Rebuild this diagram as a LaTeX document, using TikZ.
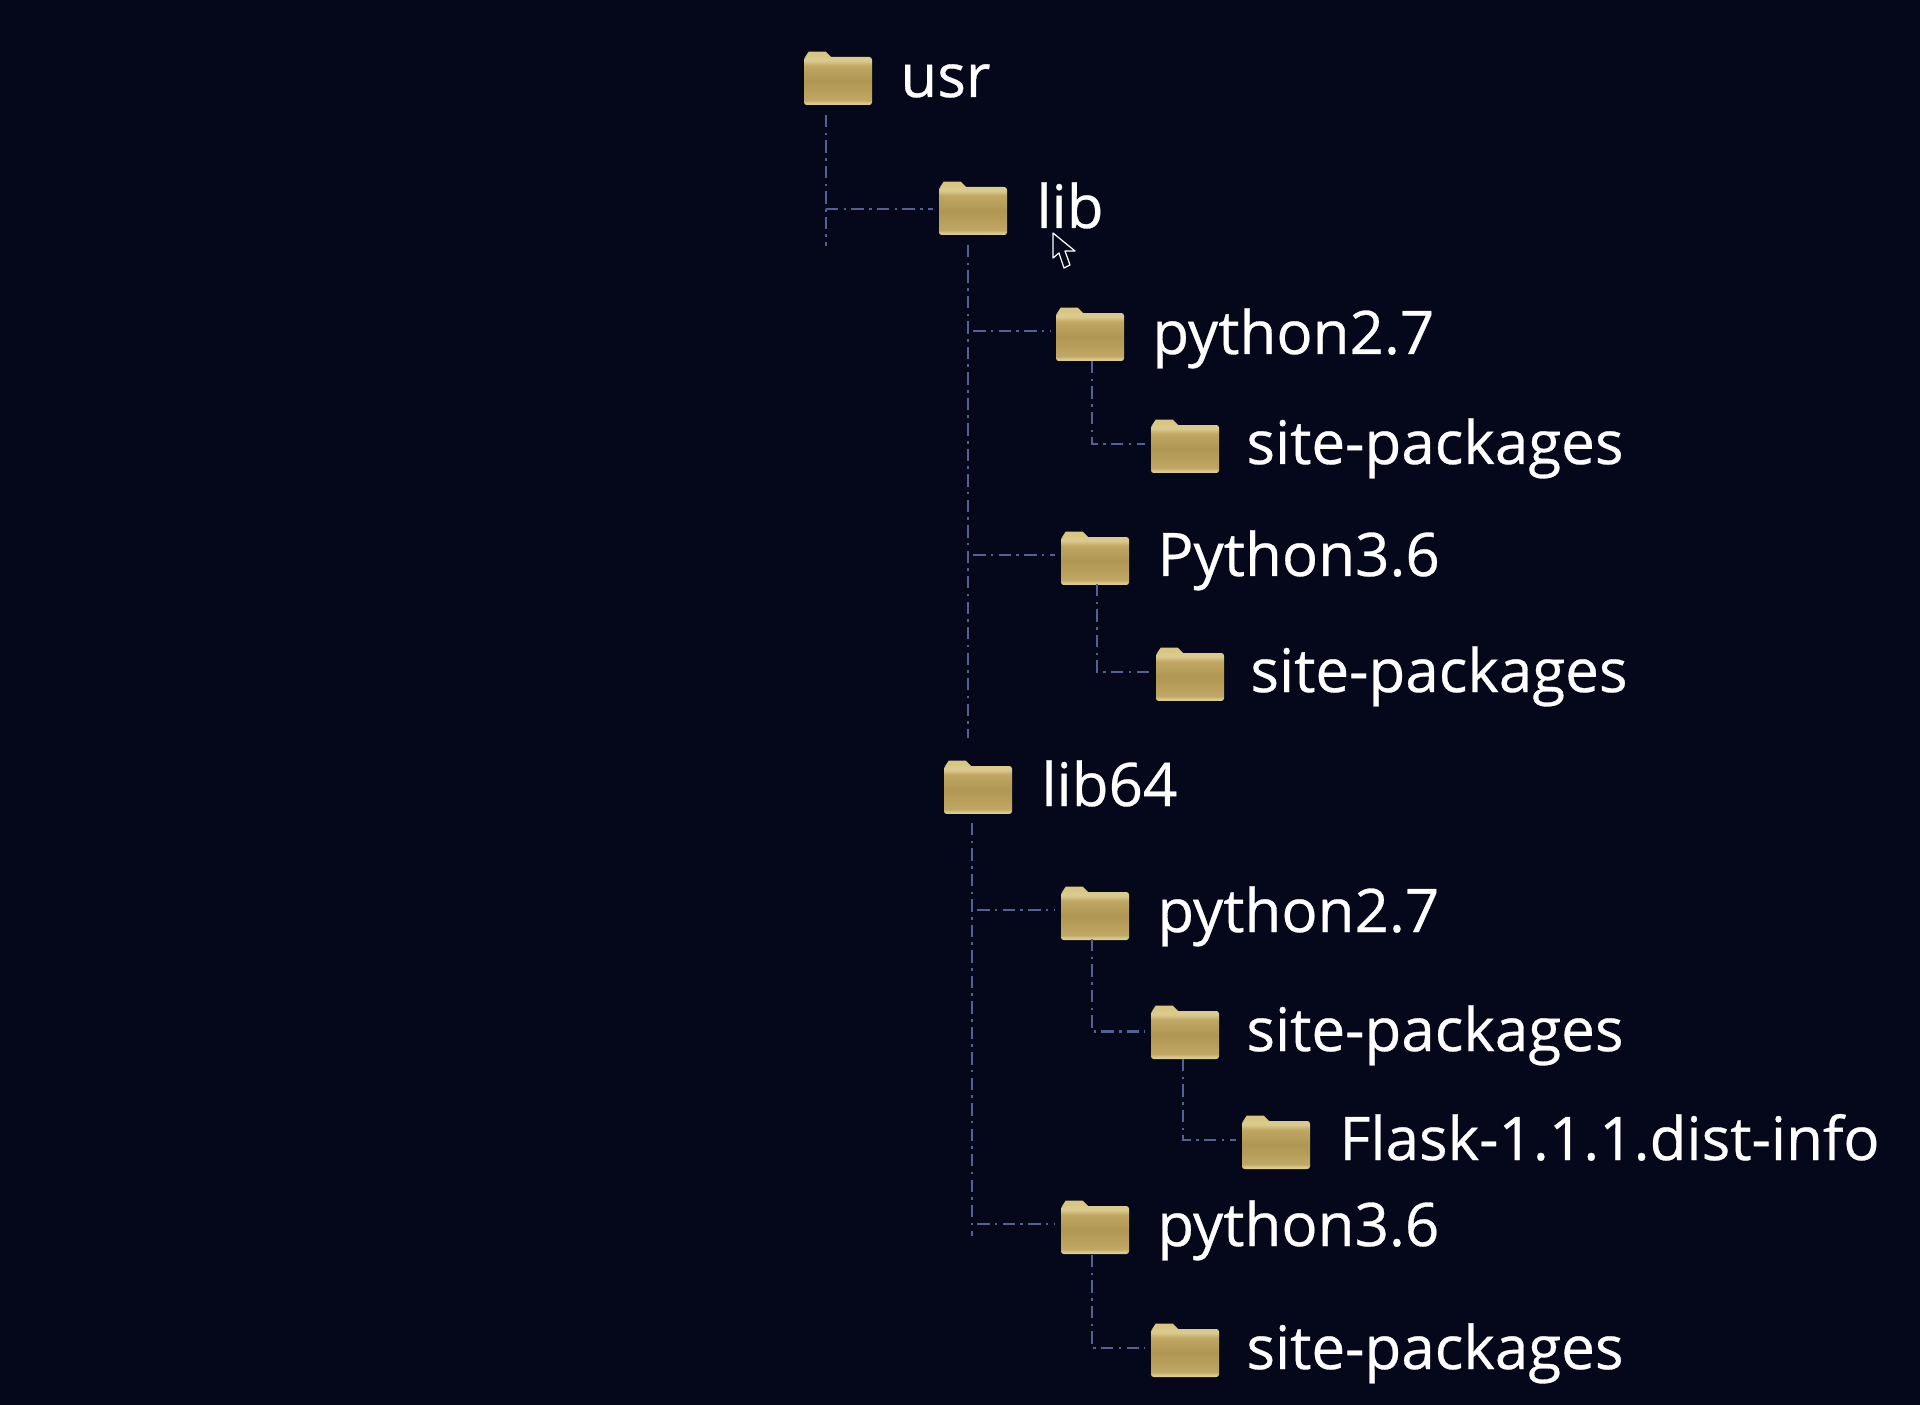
\documentclass[tikz,border=0pt]{standalone}
\usepackage{fontspec}
\newfontface\labelfont{Open Sans}[FakeBold=0.5]
\definecolor{bgnavy}{RGB}{5,8,26}
\definecolor{linkblue}{RGB}{84,96,150}
\definecolor{foldertab}{RGB}{216,198,130}
\definecolor{folderlight}{RGB}{218,202,142}
\definecolor{foldermid}{RGB}{192,167,100}
\definecolor{folderdark}{RGB}{176,150,82}
\pgfdeclareverticalshading{folderfill}{100bp}{color(0bp)=(folderlight);color(27bp)=(folderlight);color(30bp)=(foldermid);color(50bp)=(folderdark);color(66bp)=(foldermid);color(71bp)=(folderlight);color(100bp)=(folderlight)}
\tikzset{
	folder/.style={rectangle,inner sep=0,minimum width=1.36cm,minimum height=0.96cm,shading=folderfill,rounded corners=1.5pt,
		append after command={\pgfextra{\fill[foldertab] (\tikzlastnode.north west) ++(1,1) -- ++(4,-6) -- ++(17,0) -- ++(6,6) -- cycle;}}},
	label/.style={anchor=base west,inner sep=0,text=white,font=\fontsize{34.2}{40}\labelfont},
	link/.style={linkblue,line width=1.25pt,dash pattern=on 7pt off 3pt on 1.5pt off 3pt},
}
\begin{document}
\begin{tikzpicture}[x=0.02cm,y=-0.02cm]
	\fill[bgnavy] (0,0) rectangle (1920,1405);
	\useasboundingbox (0,0) rectangle (1920,1405);
	% folders
	\node[folder] (usr) at (838,81) {};
	\node[folder] (lib) at (973,211) {};
	\node[folder] (pytwo) at (1090,337) {};
	\node[folder] (sitea) at (1185,449) {};
	\node[folder] (pythree) at (1095,561) {};
	\node[folder] (siteb) at (1190,677) {};
	\node[folder] (libsix) at (978,790) {};
	\node[folder] (pytwob) at (1095,916) {};
	\node[folder] (sitec) at (1185,1035) {};
	\node[folder] (flask) at (1276,1145) {};
	\node[folder] (pythreeb) at (1095,1230) {};
	\node[folder] (sited) at (1185,1353) {};
	% labels
	\node[label] (usrtext) at (900,97) {usr};
	\node[label] (libtext) at (1036,228) {lib};
	\node[label] (pytwotext) at (1152,354) {python2.7};
	\node[label] (sitetexta) at (1246,464) {site-packages};
	\node[label] (pythreetext) at (1157,576) {Python3.6};
	\node[label] (sitetextb) at (1250,692) {site-packages};
	\node[label] (libsixtext) at (1041,806) {lib64};
	\node[label] (pytwotextb) at (1157,932) {python2.7};
	\node[label] (sitetextc) at (1246,1051) {site-packages};
	\node[label] (flasktext) at (1339,1160) {Flask-1.1.1.dist-info};
	\node[label] (pythreetextb) at (1157,1246) {python3.6};
	\node[label] (sitetextd) at (1246,1369) {site-packages};
	% trunks
	\coordinate (usrtop) at (826,115);
	\coordinate (usrend) at (826,246);
	\coordinate (libtop) at (968,245);
	\coordinate (libend) at (968,738);
	\coordinate (libsixtop) at (972,823);
	\coordinate (libsixend) at (972,1236);
	\draw[link] (usrtop) -- (usrend);
	\draw[link] (libtop) -- (libend);
	\draw[link] (libsixtop) -- (libsixend);
	% branches
	\draw[link,shorten >=3pt] ([yshift=1.2pt]usrtop |- lib) -- ([yshift=1.2pt]lib.west);
	\draw[link,shorten <=3pt,shorten >=3pt] ([yshift=3.4pt]libtop |- pytwo.west) -- ([yshift=3.4pt]pytwo.west);
	\draw[link,shorten <=3pt,shorten >=3pt] ([yshift=3.4pt]libtop |- pythree.west) -- ([yshift=3.4pt]pythree.west);
	\draw[link,shorten <=3pt,shorten >=3pt] ([yshift=3.4pt]libsixtop |- pytwob.west) -- ([yshift=3.4pt]pytwob.west);
	\draw[link,shorten <=3pt,shorten >=3pt] ([yshift=3.4pt]libsixtop |- pythreeb.west) -- ([yshift=3.4pt]pythreeb.west);
	\coordinate (pytwodrop) at (1092,361);
	\coordinate (pythreedrop) at (1097,584);
	\coordinate (pytwobdrop) at (1092,939);
	\coordinate (sitecdrop) at (1183,1059);
	\coordinate (pythreebdrop) at (1092,1255);
	\draw[link,shorten >=3pt] (pytwodrop) |- ([yshift=3pt]sitea.west);
	\draw[link,shorten >=3pt] (pythreedrop) |- ([yshift=3pt]siteb.west);
	\draw[link,shorten >=3pt] (pytwobdrop) |- ([yshift=2pt]sitec.west);
	\draw[link,shorten >=3pt] (sitecdrop) |- ([yshift=3pt]flask.west);
	\draw[link,shorten >=3pt] (pythreebdrop) |- ([yshift=3pt]sited.west);
	% pointer
	\draw[white,fill=bgnavy,line width=0.7pt,line join=round] (1053,233) -- (1053,258) -- (1059,253) -- (1064,268) -- (1070,265) -- (1065,251) -- (1075,251) -- cycle;
\end{tikzpicture}
\end{document}
